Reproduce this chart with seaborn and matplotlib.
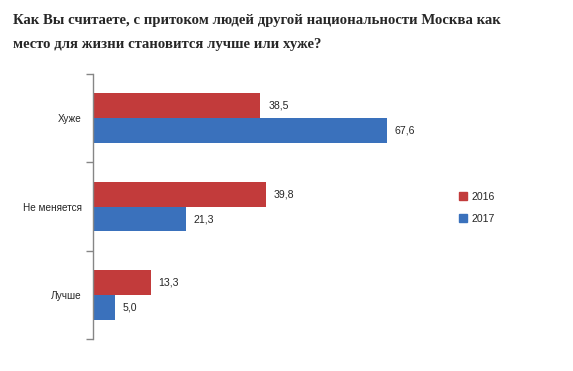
import pandas as pd
import matplotlib
matplotlib.use('Agg')
import matplotlib.pyplot as plt
import seaborn as sns

# данные
categories = ['Хуже', 'Не меняется', 'Лучше']
years = ['2016', '2017']
values_2016 = [38.5, 39.8, 13.3]
values_2017 = [67.6, 21.3, 5.0]
colors = ['#C23B3B', '#3A71BC']

df = pd.DataFrame({
    'Категория': categories * 2,
    'Год': [years[0]] * 3 + [years[1]] * 3,
    'Значение': values_2016 + values_2017,
})

sns.set_style('white')
plt.rcParams['font.family'] = ['Liberation Sans', 'DejaVu Sans']

fig = plt.figure(figsize=(5.73, 3.71), dpi=100)
ax = fig.add_axes([0.1623, 0.0863, 0.6073, 0.714])

sns.barplot(data=df, x='Значение', y='Категория', hue='Год', order=categories,
            hue_order=years, palette=colors, orient='h', width=0.565, gap=0,
            saturation=1, edgecolor='none', ax=ax)

# подписи значений
for cont in ax.containers:
    labels = [f'{v:.1f}'.replace('.', ',') for v in cont.datavalues]
    ax.bar_label(cont, labels=labels, padding=5.5, fontsize=7.6)

ax.set_xlim(0, 80)
ax.set_ylim(2.5, -0.5)
ax.set_xlabel('')
ax.set_ylabel('')
ax.set_xticks([])
for s in ['top', 'right', 'bottom']:
    ax.spines[s].set_visible(False)
ax.spines['left'].set_color('#868686')
ax.spines['left'].set_linewidth(1.0)

ax.tick_params(axis='y', which='major', length=0, pad=8, labelsize=7.2)
ax.set_yticks([-0.5, 0.5, 1.5, 2.5], minor=True)
ax.tick_params(axis='y', which='minor', length=5, color='#868686', width=1, direction='out', left=True)

leg = ax.get_legend()
leg.remove()
handles = [plt.Rectangle((0, 0), 1, 1, color=c) for c in colors]
fig.legend(handles, years, loc='center left', bbox_to_anchor=(0.785, 0.44),
           frameon=False, fontsize=7.6, handlelength=0.75, handleheight=0.75,
           handletextpad=0.4, labelspacing=1.15)

fig.text(0.023, 0.962, 'Как Вы считаете, с притоком людей другой национальности Москва как\n'
         'место для жизни становится лучше или хуже?',
         family='Liberation Serif', fontweight='bold', fontsize=10.6,
         va='top', ha='left', linespacing=2.1)

fig.savefig('out.png', dpi=100)
